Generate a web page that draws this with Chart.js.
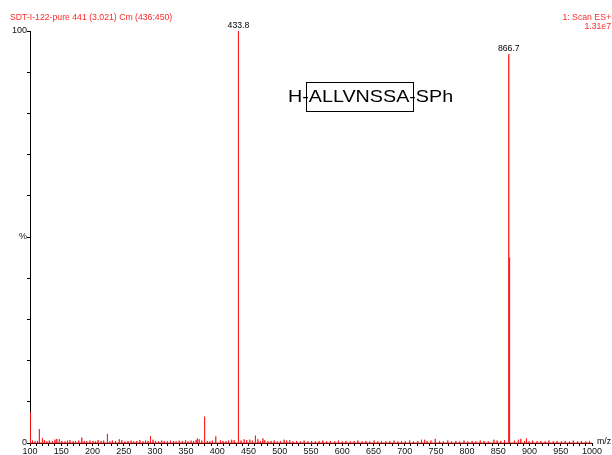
<!DOCTYPE html>
<html lang="en">
<head>
  <meta charset="UTF-8">
  <title>SDT-I-122-pure 441</title>
  <script src="https://cdn.jsdelivr.net/npm/chart.js"></script>
  <style>
    body { margin: 0; background: #fff; }
    #wrap { width: 612px; height: 455px; }
  </style>
</head>
<body>
  <div id="wrap"><canvas id="spectrum" width="612" height="455"></canvas></div>
  <script>
    // Main peaks (m/z, relative intensity %)
    const peakMz  = [100.2, 101.5, 115, 120, 143, 183, 224, 243, 293, 368, 379.6, 397.5, 433.8, 461, 473, 507, 732, 749, 843, 866.7, 867.4, 868.4, 886, 895];
    const peakPct = [7.4,   2.6,   3.4, 1.2, 1.0, 1.3, 2.2, 0.9, 1.7, 1.1, 6.4,   1.6,   100,   1.8, 1.1, 0.8, 0.8, 1.0, 0.8, 94.4,  45,    4.5,   1.0, 1.1];

    // Baseline noise
    const noiseMz  = [104, 108, 112, 123, 127, 131, 136, 140, 147, 151, 156, 160, 164, 169, 173, 178, 187, 191, 196, 201, 205, 209, 214, 218, 228, 232, 237, 247, 252, 257, 262, 266, 271, 276, 281, 285, 289, 297, 301, 306, 311, 315, 320, 325, 330, 334, 339, 344, 349, 353, 358, 362, 366, 371, 375, 384, 388, 392, 405, 409, 414, 418, 423, 427, 438, 443, 447, 452, 456, 465, 469, 476, 481, 486, 491, 496, 501, 511, 516, 521, 527, 533, 539, 545, 551, 557, 563, 569, 575, 581, 588, 594, 600, 606, 613, 619, 625, 632, 638, 644, 651, 657, 663, 670, 676, 683, 689, 695, 701, 708, 714, 721, 727, 736, 742, 756, 762, 769, 775, 782, 788, 795, 801, 808, 814, 821, 827, 834, 848, 854, 860, 876, 882, 892, 899, 905, 912, 918, 925, 931, 938, 944, 951, 957, 964, 970, 977, 983, 990, 996];
    const noisePct = [0.6, 0.4, 0.5, 0.7, 0.4, 0.6, 0.5, 0.8, 0.9, 0.5, 0.4, 0.6, 0.7, 0.4, 0.5, 0.6, 0.5, 0.4, 0.6, 0.5, 0.4, 0.7, 0.5, 0.6, 0.4, 0.6, 0.5, 0.7, 0.4, 0.5, 0.6, 0.4, 0.5, 0.7, 0.4, 0.6, 0.5, 0.8, 0.5, 0.4, 0.6, 0.5, 0.4, 0.6, 0.5, 0.4, 0.6, 0.5, 0.7, 0.4, 0.6, 0.5, 0.7, 0.9, 0.6, 0.5, 0.4, 0.6, 0.7, 0.5, 0.4, 0.6, 0.8, 0.7, 0.6, 0.9, 0.7, 0.8, 0.6, 0.9, 0.5, 0.7, 0.4, 0.5, 0.6, 0.4, 0.5, 0.6, 0.7, 0.4, 0.5, 0.4, 0.6, 0.4, 0.5, 0.4, 0.5, 0.6, 0.4, 0.5, 0.4, 0.6, 0.4, 0.5, 0.4, 0.5, 0.6, 0.4, 0.5, 0.4, 0.6, 0.4, 0.5, 0.4, 0.5, 0.6, 0.4, 0.5, 0.4, 0.6, 0.4, 0.5, 0.8, 0.5, 0.6, 0.5, 0.4, 0.6, 0.4, 0.5, 0.4, 0.6, 0.4, 0.5, 0.4, 0.6, 0.5, 0.4, 0.6, 0.5, 0.7, 0.6, 0.8, 0.5, 0.4, 0.6, 0.4, 0.5, 0.4, 0.6, 0.4, 0.5, 0.4, 0.5, 0.4, 0.6, 0.4, 0.5, 0.4, 0.5];

    // Peaks that get an m/z label on top
    const labelledMz = [433.8, 866.7];

    const xMin = 100, xMax = 1000;
    const yTickText = { 0: '0', 50: '%', 100: '100' };

    // Merge peaks + noise and turn each one into a stick
    const sticks = peakMz.map((m, i) => [m, peakPct[i]])
      .concat(noiseMz.map((m, i) => [m, noisePct[i]]))
      .sort((a, b) => a[0] - b[0]);

    const points = [{ x: xMin, y: 0 }];
    sticks.forEach(([m, v]) => {
      points.push({ x: m, y: 0 }, { x: m, y: v }, { x: m, y: 0 });
    });
    points.push({ x: xMax, y: 0 });

    // Text overlays: header, peak labels, m/z, sequence box
    const overlayText = {
      id: 'overlayText',
      afterDraw(chart) {
        const ctx = chart.ctx;
        const xs = chart.scales.x, ys = chart.scales.y;
        ctx.save();

        ctx.fillStyle = '#ff2a2a';
        ctx.font = '8.7px "Liberation Sans", Arial, sans-serif';
        ctx.textAlign = 'left';
        ctx.fillText('SDT-I-122-pure 441 (3.021) Cm (436:450)', 10, 20);
        ctx.textAlign = 'right';
        ctx.fillText('1: Scan ES+', 611, 20);
        ctx.fillText('1.31e7', 611, 29);

        ctx.fillStyle = '#000';
        ctx.textAlign = 'center';
        labelledMz.forEach(m => {
          const v = peakPct[peakMz.indexOf(m)];
          ctx.fillText(m.toFixed(1), xs.getPixelForValue(m), ys.getPixelForValue(v) - 3);
        });

        ctx.textAlign = 'left';
        ctx.fillText('m/z', xs.right + 5, xs.top + 1);

        // peptide with box around the residues (text is a bit wide in the original)
        const x0 = 288, base = 102, stretch = 1.16;
        ctx.font = '17px "Liberation Sans", Arial, sans-serif';
        const dash = ctx.measureText('-').width;
        const bx1 = x0 + stretch * (ctx.measureText('H').width + dash / 2);
        const bx2 = x0 + stretch * (ctx.measureText('H-ALLVNSSA').width + dash / 2);
        ctx.save();
        ctx.translate(x0, base);
        ctx.scale(stretch, 1);
        ctx.fillText('H-ALLVNSSA-SPh', 0, 0);
        ctx.restore();
        ctx.strokeStyle = '#000';
        ctx.lineWidth = 1;
        ctx.strokeRect(Math.round(bx1) + 0.5, 82.5, Math.round(bx2 - bx1), 29);

        ctx.restore();
      }
    };

    new Chart(document.getElementById('spectrum'), {
      type: 'line',
      data: {
        datasets: [{
          data: points,
          borderColor: 'rgba(255, 20, 20, 0.85)',
          borderWidth: 1,
          pointRadius: 0,
          tension: 0,
          clip: false
        }]
      },
      options: {
        responsive: false,
        animation: false,
        devicePixelRatio: 1,
        layout: { padding: { top: 31, right: 20, left: 0, bottom: 0 } },
        plugins: { legend: { display: false }, tooltip: { enabled: false } },
        scales: {
          x: {
            type: 'linear',
            min: xMin,
            max: xMax,
            afterFit(scale) { scale.height = 12; },
            border: { color: '#000' },
            grid: { drawOnChartArea: false, tickLength: 3, color: '#000' },
            ticks: {
              stepSize: 10,
              autoSkip: false,
              maxRotation: 0,
              minRotation: 0,
              padding: 0,
              color: '#111',
              font: { family: '"Liberation Sans", Arial, sans-serif', size: 9 },
              callback: v => (v % 50 === 0 ? String(v) : '')
            }
          },
          y: {
            min: 0,
            max: 100,
            afterFit(scale) { scale.width = 30; },
            border: { color: '#000' },
            grid: { drawOnChartArea: false, tickLength: 3, color: '#000' },
            ticks: {
              stepSize: 10,
              autoSkip: false,
              padding: 0,
              color: '#111',
              font: { family: '"Liberation Sans", Arial, sans-serif', size: 9 },
              callback: v => yTickText[v] || ''
            }
          }
        }
      },
      plugins: [overlayText]
    });
  </script>
</body>
</html>
